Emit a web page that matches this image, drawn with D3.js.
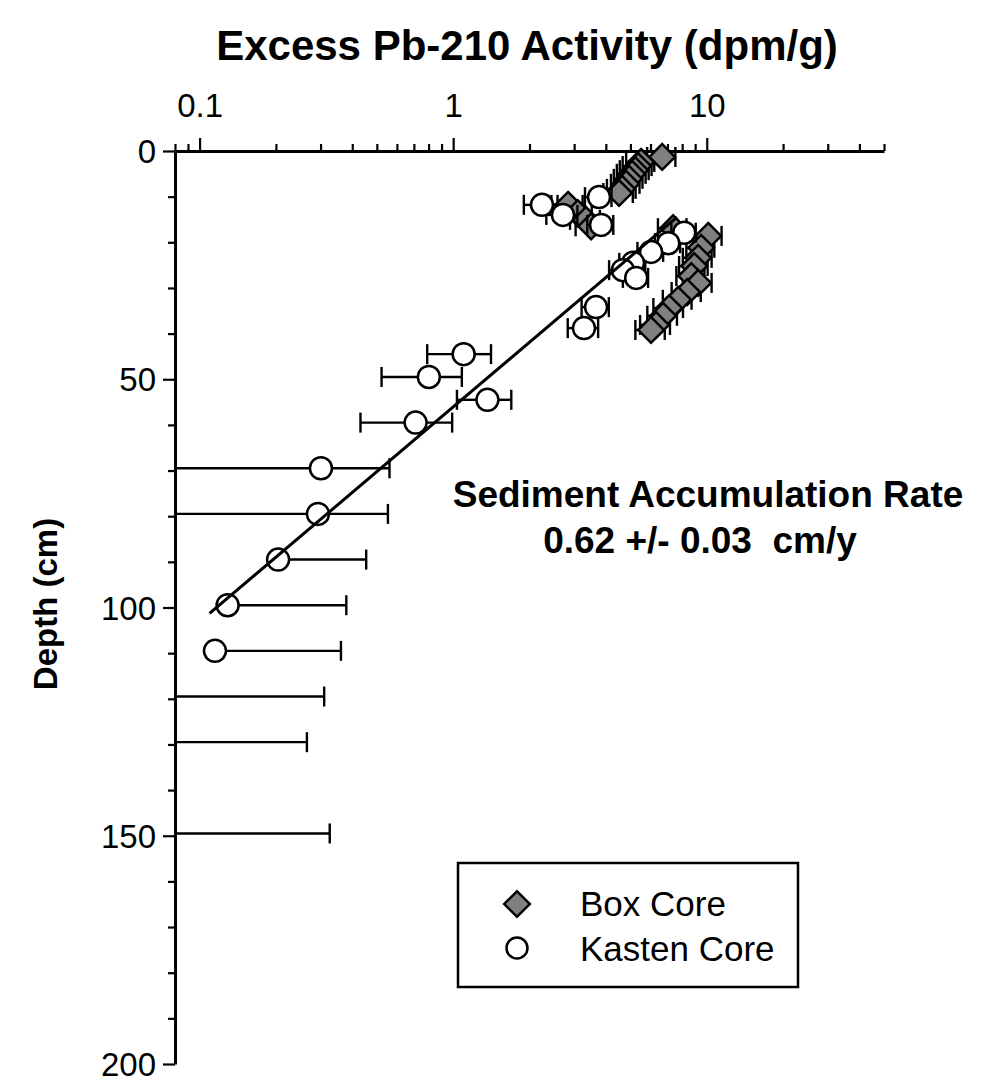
<!DOCTYPE html>
<html>
<head>
<meta charset="utf-8">
<script src="https://cdn.jsdelivr.net/npm/d3@7"></script>
<style>
  body { margin: 0; background: #fff; }
  svg { display: block; font-family: Arial, "Liberation Sans", sans-serif; }
</style>
</head>
<body>
<svg width="981" height="1084"></svg>
<script>
// box core: depth (cm), excess Pb-210 (dpm/g), error
const boxDepth = [1.3, 2.4, 3.3, 4.2, 5.0, 6.1, 7.2, 8.3, 9.2, 11.8, 13.6, 15.1, 16.5,
  16.9, 18.6, 21.2, 23.4, 25.2, 27.4, 28.9, 30.9, 32.6, 34.4, 36.1, 38.1, 39.2];
const boxAct = [6.67, 5.51, 5.36, 5.22, 5.08, 4.94, 4.81, 4.64, 4.51, 2.84, 3.10, 3.34, 3.50,
  7.37, 10.14, 9.51, 9.25, 8.93, 8.69, 9.25, 8.37, 7.71, 7.11, 6.73, 6.31, 6.03];
const boxErr = [0.85, 0.7, 0.7, 0.68, 0.66, 0.64, 0.62, 0.6, 0.6, 0.4, 0.42, 0.45, 0.46,
  0.95, 1.3, 1.2, 1.2, 1.15, 1.1, 1.2, 1.1, 1.0, 0.95, 0.9, 0.85, 0.8];

// kasten core
const kastenDepth = [10.1, 11.8, 14.0, 16.2, 17.9, 20.2, 22.1, 24.5, 26.1, 27.8, 34.2, 38.8,
  44.5, 49.5, 54.5, 59.5, 69.5, 79.5, 89.5, 99.5, 109.5, 119.5, 129.5, 149.5];
const kastenAct = [3.76, 2.24, 2.71, 3.83, 8.15, 7.05, 6.03, 5.12, 4.67, 5.27, 3.66, 3.28,
  1.10, 0.802, 1.365, 0.711, 0.301, 0.293, 0.204, 0.129, 0.115, 0.04, 0.04, 0.04];
const kastenErr = [0.45, 0.34, 0.38, 0.45, 0.9, 0.8, 0.7, 0.6, 0.55, 0.6, 0.45, 0.45,
  0.31, 0.28, 0.33, 0.28, 0.26, 0.26, 0.25, 0.25, 0.246, 0.27, 0.225, 0.286];

// fitted line end points
const fitDepth = [14.5, 101.3];
const fitAct = [7.63, 0.1095];

const xMajor = [0.1, 1, 10];
const xMinor = [0.08, 0.09, 0.2, 0.3, 0.4, 0.5, 0.6, 0.7, 0.8, 0.9,
  2, 3, 4, 5, 6, 7, 8, 9, 20, 30, 40, 50];
const yMajor = [0, 50, 100, 150, 200];
const yMinor = [10, 20, 30, 40, 60, 70, 80, 90, 110, 120, 130, 140, 160, 170, 180, 190];

const svg = d3.select('svg');
const x = d3.scaleLog().domain([0.08, 50]).range([175, 884]);
const y = d3.scaleLinear().domain([0, 200]).range([151, 1064]);
const xmin = x.domain()[0];
const font = 'Arial, "Liberation Sans", sans-serif';

const box = boxDepth.map((d, i) => ({depth: d, act: boxAct[i], err: boxErr[i]}));
const kasten = kastenDepth.map((d, i) => ({depth: d, act: kastenAct[i], err: kastenErr[i]}));

// axes
const ax = svg.append('g').attr('transform', 'translate(0,' + y(0) + ')');
ax.call(d3.axisTop(x).tickValues(xMinor).tickSize(7).tickSizeOuter(0).tickFormat(''));
ax.append('g').call(d3.axisTop(x).tickValues(xMajor).tickSize(13).tickFormat(d3.format('')))
  .call(g => g.select('.domain').remove());
ax.selectAll('text').attr('y', -34).attr('dy', 0).attr('font-size', 33)
  .attr('font-family', font).attr('fill', '#000');

const ay = svg.append('g').attr('transform', 'translate(' + x(xmin) + ',0)');
ay.call(d3.axisLeft(y).tickValues(yMinor).tickSize(7).tickSizeOuter(0).tickFormat(''));
ay.append('g').call(d3.axisLeft(y).tickValues(yMajor).tickSize(12).tickPadding(7))
  .call(g => g.select('.domain').remove());
ay.selectAll('text').attr('font-size', 33).attr('dy', '0.35em')
  .attr('font-family', font).attr('fill', '#000');

svg.selectAll('.domain').attr('stroke', '#000').attr('stroke-width', 3);
svg.selectAll('.tick line').attr('stroke', '#000').attr('stroke-width', 2.2);

// error bars
function errorBars(data) {
  const g = svg.append('g').attr('stroke', '#000').attr('stroke-width', 2.4);
  data.forEach(d => {
    const cy = y(d.depth);
    const hi = d.act + d.err, lo = d.act - d.err;
    g.append('line').attr('x1', x(Math.max(d.act, xmin))).attr('x2', x(hi))
      .attr('y1', cy).attr('y2', cy);
    g.append('line').attr('x1', x(hi)).attr('x2', x(hi)).attr('y1', cy - 10).attr('y2', cy + 10);
    if (lo > 0) {
      g.append('line').attr('x1', x(Math.max(lo, xmin))).attr('x2', x(Math.max(d.act, xmin)))
        .attr('y1', cy).attr('y2', cy);
      if (lo >= xmin)
        g.append('line').attr('x1', x(lo)).attr('x2', x(lo)).attr('y1', cy - 10).attr('y2', cy + 10);
    }
  });
}

const diamond = d3.symbol().type(d3.symbolSquare).size(330);

errorBars(box);
svg.append('g').selectAll('path').data(box.filter(d => d.act >= xmin)).join('path')
  .attr('d', diamond)
  .attr('transform', d => 'translate(' + x(d.act) + ',' + y(d.depth) + ') rotate(45)')
  .attr('fill', '#808080').attr('stroke', '#000').attr('stroke-width', 2.5);

errorBars(kasten);
svg.append('g').selectAll('circle').data(kasten.filter(d => d.act >= xmin)).join('circle')
  .attr('cx', d => x(d.act)).attr('cy', d => y(d.depth)).attr('r', 11)
  .attr('fill', '#fff').attr('stroke', '#000').attr('stroke-width', 2.5);

// regression line
const fit = fitDepth.map((d, i) => [fitAct[i], d]);
svg.append('path').datum(fit)
  .attr('d', d3.line().x(d => x(d[0])).y(d => y(d[1])))
  .attr('fill', 'none').attr('stroke', '#000').attr('stroke-width', 3);

// titles
svg.append('text').attr('x', 527).attr('y', 60).attr('text-anchor', 'middle')
  .attr('font-size', 42).attr('font-weight', 'bold').text('Excess Pb-210 Activity (dpm/g)');
svg.append('text').attr('transform', 'translate(57,604) rotate(-90)').attr('text-anchor', 'middle')
  .attr('font-size', 33).attr('font-weight', 'bold').text('Depth (cm)');

svg.append('text').attr('x', 708).attr('y', 507).attr('text-anchor', 'middle')
  .attr('font-size', 37).attr('font-weight', 'bold').text('Sediment Accumulation Rate');
svg.append('text').attr('x', 700).attr('y', 553).attr('text-anchor', 'middle')
  .attr('font-size', 37).attr('font-weight', 'bold').attr('xml:space', 'preserve')
  .text('0.62 +/- 0.03  cm/y');

// legend
const lg = svg.append('g');
lg.append('rect').attr('x', 458).attr('y', 863).attr('width', 340).attr('height', 124)
  .attr('fill', '#fff').attr('stroke', '#000').attr('stroke-width', 2.5);
lg.append('path').attr('d', diamond).attr('transform', 'translate(517,904) rotate(45)')
  .attr('fill', '#808080').attr('stroke', '#000').attr('stroke-width', 2.5);
lg.append('circle').attr('cx', 517).attr('cy', 948).attr('r', 10.5)
  .attr('fill', '#fff').attr('stroke', '#000').attr('stroke-width', 2.5);
lg.append('text').attr('x', 580).attr('y', 916).attr('font-size', 35).text('Box Core');
lg.append('text').attr('x', 580).attr('y', 961).attr('font-size', 35).text('Kasten Core');
</script>
</body>
</html>
